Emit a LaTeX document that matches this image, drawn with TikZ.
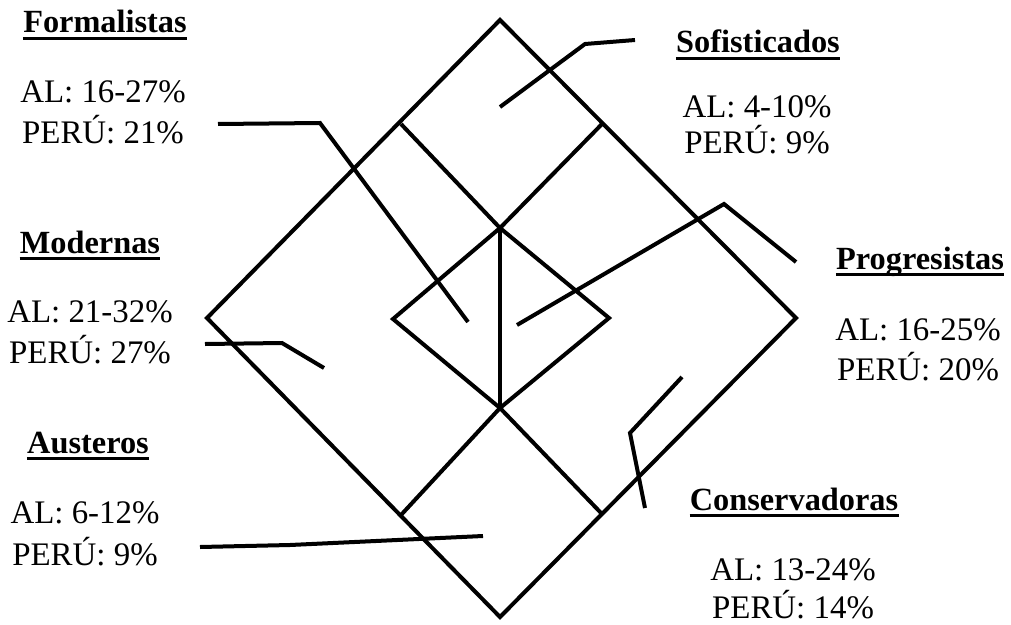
\documentclass[tikz,border=0pt]{standalone}
\usepackage{fontspec}
\setmainfont{Liberation Serif}
\usetikzlibrary{positioning}
\tikzset{
  frame/.style={line width=0.1cm},
  leader/.style={line width=0.1cm},
  heading/.style={font=\fontsize{23}{27}\selectfont\bfseries, inner sep=0pt, anchor=base},
  share/.style={font=\fontsize{23.4}{27}\selectfont, inner sep=0pt, anchor=base},
  uline/.style={line width=0.075cm},
}

\begin{document}
\begin{tikzpicture}[x=0.025cm, y=-0.025cm]
        \useasboundingbox (0,0) rectangle (1011,624);

        % diamond corners
        \coordinate (top) at (500,20);
        \coordinate (right) at (796,318);
        \coordinate (bottom) at (500,617);
        \coordinate (left) at (207,318);
        \coordinate (ul) at (401,124);
        \coordinate (ur) at (602,124);
        \coordinate (ll) at (401,515);
        \coordinate (lr) at (602,514);
        \coordinate (itop) at (500,228);
        \coordinate (iright) at (609,318);
        \coordinate (ibot) at (500,408);
        \coordinate (ileft) at (393,319);

        % frame
        \draw[frame] (top) -- (right) -- (bottom) -- (left) -- cycle;
        \draw[frame] (ul) -- (itop) -- (ur);
        \draw[frame] (ll) -- (ibot) -- (lr);
        \draw[frame] (itop) -- (iright) -- (ibot) -- (ileft) -- cycle;
        \draw[frame] (itop) -- (ibot);

        % labels
        \node[heading] (formH) at (105,33) {Formalistas};
        \node[share] (formAL) at (103,103) {AL: 16-27\%};
        \node[share] (formPE) at (103,143) {PERÚ: 21\%};

        \node[heading] (sofH) at (758,53) {Sofisticados};
        \node[share] (sofAL) at (757,117) {AL: 4-10\%};
        \node[share] (sofPE) at (757,153) {PERÚ: 9\%};

        \node[heading] (modH) at (90,253) {Modernas};
        \node[share] (modAL) at (90,322) {AL: 21-32\%};
        \node[share] (modPE) at (90,363) {PERÚ: 27\%};

        \node[heading] (proH) at (920,269) {Progresistas};
        \node[share] (proAL) at (918,340) {AL: 16-25\%};
        \node[share] (proPE) at (918,380) {PERÚ: 20\%};

        \node[heading] (ausH) at (88,453) {Austeros};
        \node[share] (ausAL) at (85,523) {AL: 6-12\%};
        \node[share] (ausPE) at (85,565) {PERÚ: 9\%};

        \node[heading] (conH) at (794,510) {Conservadoras};
        \node[share] (conAL) at (793,580) {AL: 13-24\%};
        \node[share] (conPE) at (793,618) {PERÚ: 14\%};

        \foreach \h in {formH, sofH, modH, proH, ausH, conH}
          \draw[uline] ([yshift=-0.13cm]\h.base west) -- ([yshift=-0.13cm]\h.base east);

        % leader lines
        \coordinate (formA) at (218,124);
        \coordinate (formB) at (320,123);
        \coordinate (formC) at (468,322);
        \coordinate (sofA) at (635,40);
        \coordinate (sofB) at (585,44);
        \coordinate (sofC) at (500,107);
        \coordinate (modA) at (205,344);
        \coordinate (modB) at (282,343);
        \coordinate (modC) at (324,368);
        \coordinate (proA) at (796,262);
        \coordinate (proB) at (724,204);
        \coordinate (proC) at (517,325);
        \coordinate (conA) at (645,508);
        \coordinate (conB) at (630,433);
        \coordinate (conC) at (682,377);
        \coordinate (ausA) at (200,547);
        \coordinate (ausB) at (290,545);
        \coordinate (ausC) at (483,536);

        \draw[leader] (formA) -- (formB) -- (formC);
        \draw[leader] (sofA) -- (sofB) -- (sofC);
        \draw[leader] (modA) -- (modB) -- (modC);
        \draw[leader] (proA) -- (proB) -- (proC);
        \draw[leader] (conA) -- (conB) -- (conC);
        \draw[leader] (ausA) -- (ausB) -- (ausC);
\end{tikzpicture}
\end{document}
